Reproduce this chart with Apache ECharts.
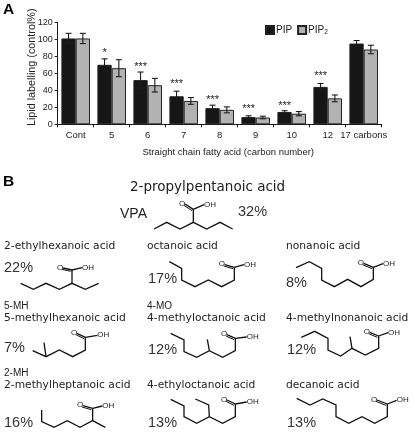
<!DOCTYPE html>
<html>
<head>
<meta charset="utf-8">
<style>
html,body{margin:0;padding:0;background:#fff;}
#main{width:415px;height:436px;}
</style>
<script src="https://cdn.jsdelivr.net/npm/echarts@6/dist/echarts.min.js"></script>
</head>
<body>
<div id="main"></div>
<script>
var categories = ['Cont','5','6','7','8','9','10','12','17 carbons'];
var pip = [101,70,52,33,19,8.5,14.5,44,95];
var pip2 = [101,66,46,27.5,17,8,12.5,30.5,88];
var pipErr = [6,7,9.5,6,3.5,1.5,1.5,4,3.5];
var pip2Err = [6,10,8,4,3.5,1.5,2.5,4,5];
var stars = ['','*','***','***','***','***','***','***',''];
var starLevel = [0,87,70,50,31,21,25,60,0];
var yTicks = {min:0,max:120,interval:20};

var font = '"Liberation Sans", Arial, sans-serif';
var nameFont = '"DejaVu Sans", sans-serif';
var dark = '#1c1c1c';
var barW = 14.3;

// structures of panel B, in 3x zoom pixels, frame = y offset in the page
var molecules = [
	{frame:170,chains:[[462,177,500,157,540,177,580,157,620,177,660,157,698,177],[580,157,580,118]],c:[580,118],o:[546,100],oh:[630,103]},
	{frame:170,chains:[[62,340,100,358,138,340,178,358,216,340,256,358,296,340],[216,340,216,300]],c:[216,300],o:[180,292],oh:[264,292]},
	{frame:170,chains:[[508,275,545,295,545,330,585,350,625,330,665,350,703,330,703,292]],c:[703,292],o:[665,282],oh:[750,283]},
	{frame:170,chains:[[888,293,928,275,965,295,965,330,1003,350,1043,328,1083,350,1120,328,1120,292]],c:[1120,292],o:[1082,278],oh:[1167,280]},
	{frame:300,chains:[[98,152,138,170,178,150,218,170,256,150,256,112],[138,170,132,128]],c:[256,112],o:[222,98],oh:[310,105]},
	{frame:300,chains:[[512,100,552,120,552,155,590,172,628,152,668,172,706,152,706,115],[628,152,622,118]],c:[706,115],o:[672,102],oh:[758,110]},
	{frame:300,chains:[[904,112,944,94,984,115,984,150,1022,168,1056,145,1096,165,1136,145,1136,108],[1056,145,1050,110]],c:[1136,108],o:[1100,95],oh:[1182,97]},
	{frame:300,chains:[[125,330,125,365,162,382,202,362,240,382,278,362,278,325],[278,362,316,382]],c:[278,325],o:[240,315],oh:[325,317]},
	{frame:300,chains:[[512,298,552,318,552,350,590,370,628,350,668,370,706,350,706,312],[628,350,626,315,586,297]],c:[706,312],o:[672,298],oh:[758,305]},
	{frame:300,chains:[[890,295,930,315,968,297,1008,315,1008,350,1046,370,1086,350,1124,370,1162,350,1162,312]],c:[1162,312],o:[1122,298],oh:[1208,300]}
];

// x, y, text
var acidNames = [
	[4,246,'2-ethylhexanoic acid'],[147,246,'octanoic acid'],[286,246,'nonanoic acid'],
	[4,318,'5-methylhexanoic acid'],[147,318,'4-methyloctanoic acid'],[286,318,'4-methylnonanoic acid'],
	[4,385,'2-methylheptanoic acid'],[147,385,'4-ethyloctanoic acid'],[286,385,'decanoic acid']
];
var shortNames = [[4,306,'5-MH'],[147,306,'4-MO'],[4,373,'2-MH']];
var percents = [
	[238,212,'32%'],[4,268,'22%'],[148,279,'17%'],[286,283,'8%'],
	[4,348,'7%'],[148,350,'12%'],[287,350,'12%'],
	[4,423,'16%'],[148,423,'13%'],[287,423,'13%']
];

function line(points,frame,width){
	var pts = [];
	for(var i=0;i<points.length;i+=2){
		pts.push([points[i]/3,points[i+1]/3+frame]);
	}
	return {type:'polyline',silent:true,shape:{points:pts},style:{stroke:'#111',lineWidth:width||1.3,fill:null}};
}
function txt(x,y,s,size,family,extra){
	var style = {x:x,y:y,text:s,fontSize:size,fontFamily:family,fill:'#222',textVerticalAlign:'middle',verticalAlign:'middle'};
	for(var k in extra){style[k]=extra[k];}
	return {type:'text',silent:true,style:style};
}

var graphics = [
	txt(3,10,'A',15.5,font,{fontWeight:'bold',fill:'#000'}),
	txt(3,182,'B',15.5,font,{fontWeight:'bold',fill:'#000'}),
	txt(130,187,'2-propylpentanoic acid',13.5,nameFont),
	txt(120,214,'VPA',14,font)
];
acidNames.forEach(function(a){graphics.push(txt(a[0],a[1],a[2],10.7,nameFont));});
shortNames.forEach(function(a){graphics.push(txt(a[0],a[1],a[2],10,font));});
percents.forEach(function(a){graphics.push(txt(a[0],a[1],a[2],14.5,font,{fill:'#333'}));});
molecules.forEach(function(m){
	m.chains.forEach(function(c){graphics.push(line(c,m.frame));});
	var cx=m.c[0],cy=m.c[1];
	// acid group: C=O and C-OH bonds
	graphics.push(line([cx,cy,m.o[0]+9,m.o[1]+2],m.frame));
	graphics.push(line([cx-4,cy+4,m.o[0]+6,m.o[1]+6],m.frame,1));
	graphics.push(line([cx,cy,m.oh[0]-18,m.oh[1]+1],m.frame));
	graphics.push(txt(m.o[0]/3-3,m.o[1]/3+m.frame,'O',8,font));
	graphics.push(txt(m.oh[0]/3-6,m.oh[1]/3+m.frame,'OH',8,font));
});

function errorItem(values,errs,offset){
	return function(params,api){
		var i = api.value(0);
		var top = api.coord([i,values[i]+errs[i]]);
		var bot = api.coord([i,values[i]-errs[i]]);
		var x = top[0]+offset;
		var style = {stroke:dark,lineWidth:1.1,fill:null};
		return {type:'group',children:[
			{type:'line',shape:{x1:x,y1:top[1],x2:x,y2:bot[1]},style:style},
			{type:'line',shape:{x1:x-3,y1:top[1],x2:x+3,y2:top[1]},style:style},
			{type:'line',shape:{x1:x-3,y1:bot[1],x2:x+3,y2:bot[1]},style:style}
		]};
	};
}
function starItem(params,api){
	var i = api.value(0);
	var p = api.coord([i,starLevel[i]]);
	return {type:'text',style:{x:p[0]-barW/2,y:p[1]+2.5,text:stars[i],fontSize:11,fontFamily:font,fill:'#222',align:'center',verticalAlign:'middle'}};
}
var index = categories.map(function(c,i){return i;});

var chart = echarts.init(document.getElementById('main'),null,{renderer:'canvas'});
chart.setOption({
	animation:false,
	backgroundColor:'#fff',
	textStyle:{fontFamily:font},
	grid:{left:57.7,top:22.3,width:324,height:102,containLabel:false},
	legend:{
		left:265,top:25,padding:0,icon:'rect',itemWidth:8,itemHeight:8,itemGap:5,
		selectedMode:false,
		data:['PIP','PIP2'],
		formatter:function(n){return n=='PIP2'?'{a|PIP}{b|2}':'{a|PIP}';},
		textStyle:{padding:[0,0,0,-3],rich:{
			a:{fontSize:10,fontFamily:font,color:'#222'},
			b:{fontSize:6.5,fontFamily:font,color:'#222',verticalAlign:'bottom',padding:[5,0,0,0]}
		}}
	},
	xAxis:{
		type:'category',
		data:categories,
		name:'Straight chain fatty acid (carbon number)',
		nameLocation:'middle',
		nameMoveOverlap:false,
		nameGap:23,
		nameTextStyle:{fontSize:9.5,color:'#222',fontFamily:font,padding:[0,0,0,17]},
		axisLine:{lineStyle:{color:dark,width:1}},
		axisTick:{show:true,alignWithLabel:false,length:3,lineStyle:{color:dark}},
		axisLabel:{interval:0,fontSize:9.5,color:'#222',fontFamily:font,margin:6}
	},
	yAxis:{
		type:'value',
		min:yTicks.min,max:yTicks.max,interval:yTicks.interval,
		name:'Lipid labelling (control%)',
		nameLocation:'middle',
		nameMoveOverlap:false,
		nameGap:20,
		nameTextStyle:{fontSize:10.8,color:'#222',fontFamily:font,padding:[0,0,0,12]},
		axisLine:{show:true,lineStyle:{color:dark,width:1}},
		axisTick:{show:true,length:3,lineStyle:{color:dark}},
		axisLabel:{fontSize:9,color:'#222',fontFamily:font,margin:5},
		splitLine:{show:false}
	},
	graphic:graphics,
	series:[
		{name:'PIP',type:'bar',data:pip,barWidth:barW,barGap:0,itemStyle:{color:'#161616',borderColor:'#222',borderWidth:1}},
		{name:'PIP2',type:'bar',data:pip2,barWidth:barW,barGap:0,itemStyle:{color:'#b2b2b2',borderColor:'#222',borderWidth:1}},
		{type:'custom',data:index,encode:{x:0},renderItem:errorItem(pip,pipErr,-barW/2),z:5,silent:true},
		{type:'custom',data:index,encode:{x:0},renderItem:errorItem(pip2,pip2Err,barW/2),z:5,silent:true},
		{type:'custom',data:index,encode:{x:0},renderItem:starItem,z:5,silent:true}
	]
});
</script>
</body>
</html>
